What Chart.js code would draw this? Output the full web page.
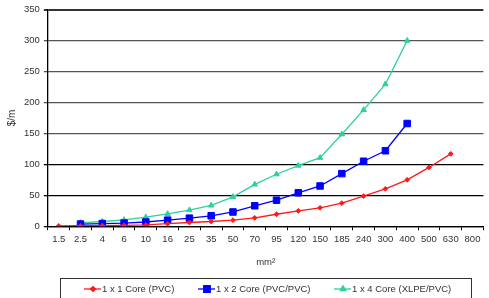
<!DOCTYPE html>
<html>
<head>
<meta charset="utf-8">
<script src="https://cdn.jsdelivr.net/npm/chart.js@4"></script>
<style>
  html, body { margin: 0; padding: 0; background: #fff; }
  #wrap { width: 489px; height: 298px; }
</style>
</head>
<body>
<div id="wrap"><canvas id="cableChart"></canvas></div>
<script>
// Cable sizes (mm2)
const sizes = ['1.5', '2.5', '4', '6', '10', '16', '25', '35', '50', '70', '95', '120', '150', '185', '240', '300', '400', '500', '630', '800'];

// $/m per cable type
const core1Pvc = [0.5, 0.8, 1, 1.2, 2, 4, 6, 7.6, 9.7, 13.5, 19.3, 24.8, 29.7, 37.3, 48.6, 60.5, 75, 95, 117, null];
const core2Pvc = [null, 3.5, 4.3, 5, 6.8, 9.8, 13, 16.8, 23, 33, 42, 54, 65, 85, 105, 122, 166, null, null, null];
const core4Xlpe = [null, 5.4, 7.6, 10.2, 14.6, 20, 26, 33.5, 47.5, 67.5, 84, 98, 110.7, 148.6, 188, 229.6, 300, null, null, null];

const seriesLabels = ['1 x 1 Core (PVC)', '1 x 2 Core (PVC/PVC)', '1 x 4 Core (XLPE/PVC)'];

const yTicks = { min: 0, max: 350, step: 50 };

const FONT = 'Liberation Sans, Arial, sans-serif';

// Boxed legend drawn under the axis title, like the spreadsheet original
const boxedLegend = {
    id: 'boxedLegend',
    afterDraw(chart) {
        const ctx = chart.ctx;
        const top = 278, left = 60, right = 471;
        ctx.save();
        ctx.strokeStyle = '#333';
        ctx.lineWidth = 1;
        ctx.strokeRect(left + 0.5, top + 0.5, right - left, 30);

        const starts = [84, 198, 334];
        const y = 289;
        ctx.font = '9.5px ' + FONT;
        ctx.textBaseline = 'middle';
        chart.data.datasets.forEach((ds, i) => {
            const x = starts[i];
            ctx.strokeStyle = ds.borderColor;
            ctx.lineWidth = 1.3;
            ctx.beginPath();
            ctx.moveTo(x, y);
            ctx.lineTo(x + 17, y);
            ctx.stroke();
            Chart.helpers.drawPoint(ctx, {
                pointStyle: ds.pointStyle,
                radius: ds.pointRadius,
                borderWidth: 1
            }, x + 9, y);
            ctx.fillStyle = ds.borderColor;
            ctx.fill();
            ctx.fillStyle = '#333';
            ctx.fillText(ds.label, x + 18, y);
        });
        ctx.restore();
    }
};

function makeDataset(label, data, color, style, radius) {
    return {
        label: label,
        data: data,
        borderColor: color,
        backgroundColor: color,
        borderWidth: 1.3,
        pointStyle: style,
        pointRadius: radius,
        pointHoverRadius: radius,
        pointBorderWidth: 1,
        tension: 0,
        spanGaps: false
    };
}

const ctx = document.getElementById('cableChart').getContext('2d');
new Chart(ctx, {
    type: 'line',
    data: {
        labels: sizes,
        datasets: [
            makeDataset(seriesLabels[0], core1Pvc, '#ff1a1a', 'rectRot', 2.4),
            makeDataset(seriesLabels[1], core2Pvc, '#0000ff', 'rect', 4.6),
            makeDataset(seriesLabels[2], core4Xlpe, '#2fd0a0', 'triangle', 3.2)
        ]
    },
    options: {
        responsive: true,
        maintainAspectRatio: false,
        animation: false,
        layout: { padding: { top: 4, right: 0, left: 6, bottom: 30 } },
        plugins: {
            legend: { display: false },
            tooltip: { enabled: false }
        },
        scales: {
            x: {
                offset: true,
                grid: {
                    offset: true,
                    drawOnChartArea: false,
                    tickLength: 4,
                    color: '#000'
                },
                border: { color: '#000', width: 1.3 },
                ticks: {
                    color: '#333',
                    font: { family: FONT, size: 9.5 },
                    maxRotation: 0,
                    autoSkip: false,
                    padding: 3
                },
                title: {
                    display: true,
                    text: 'mm²',
                    color: '#333',
                    font: { family: FONT, size: 9.5 },
                    padding: { top: 9, bottom: 0 }
                }
            },
            y: {
                min: yTicks.min,
                max: yTicks.max,
                grid: {
                    tickLength: 4,
                    color: c => c.tick.value >= 350 ? '#333' : (c.tick.value > 100 ? '#555' : '#000'),
                    lineWidth: c => c.tick.value >= 350 ? 2 : 1.3
                },
                border: { color: '#000', width: 1.3 },
                ticks: {
                    stepSize: yTicks.step,
                    color: '#333',
                    font: { family: FONT, size: 9.5 },
                    padding: 4
                },
                title: {
                    display: true,
                    text: '$/m',
                    color: '#333',
                    font: { family: FONT, size: 10 },
                    padding: { top: 0, bottom: 2 }
                }
            }
        }
    },
    plugins: [boxedLegend]
});
</script>
</body>
</html>
